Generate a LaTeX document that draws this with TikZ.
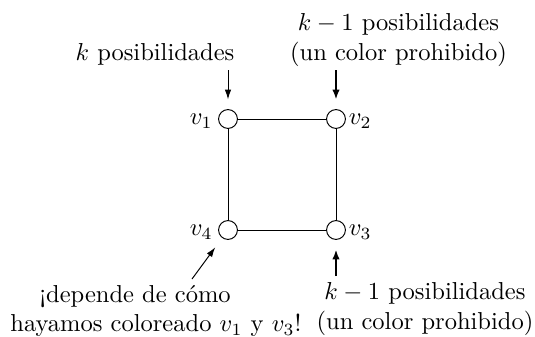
\documentclass[tikz,border=0pt]{standalone}
\usetikzlibrary{arrows.meta}
\begin{document}
\begin{tikzpicture}[x=0.408pt,y=-0.408pt,
  vert/.style={circle,draw,line width=0.4pt,inner sep=0pt,minimum size=7.7pt},
  edge/.style={line width=0.4pt},
  thinarr/.style={-{Latex[length=4pt,width=2.6pt]},line width=0.4pt,shorten >=3.9pt},
  thickarr/.style={-{Latex[length=4pt,width=3pt]},line width=1.1pt,shorten >=3.9pt},
  vlab/.style={inner sep=1pt},
  lbl/.style={inner sep=0pt}]
\useasboundingbox (0,0) rectangle (535,336);
\node[vert] (v1) at (228,119) {};
\node[vert] (v2) at (336,119) {};
\node[vert] (v3) at (336,230) {};
\node[vert] (v4) at (228,230) {};
\node[vlab,left=1pt] (l1) at ([yshift=-1pt]v1.west) {$v_1$};
\node[vlab,right=0pt] (l2) at ([yshift=-1pt]v2.east) {$v_2$};
\node[vlab,right=0pt] (l3) at ([yshift=-1pt]v3.east) {$v_3$};
\node[vlab,left=1pt] (l4) at ([yshift=-1pt]v4.west) {$v_4$};
\draw[edge] (v1) -- (v2) -- (v3) -- (v4) -- (v1);
\coordinate (a1) at (228,70);
\coordinate (a2) at (336,70);
\coordinate (a3) at (336,276);
\coordinate (a4) at (192,279);
\node[lbl,anchor=base] (t1) at (155,60) {$k$ posibilidades};
\node[lbl,align=center] (t2) at (398.5,40) {$k-1$ posibilidades\\(un color prohibido)};
\node[lbl,align=center] (t3) at (425,309) {$k-1$ posibilidades\\(un color prohibido)};
\node[lbl,align=left,anchor=west] (t4) at (10,311) {\hspace*{11.8pt}¡depende de cómo\\hayamos coloreado $v_1$ y $v_3$!};
\draw[thinarr] (a1) -- (v1);
\draw[thickarr] (a2) -- (v2);
\draw[thickarr] (a3) -- (v3);
\draw[thinarr,shorten >=4.7pt] (a4) -- (v4);
\end{tikzpicture}
\end{document}
